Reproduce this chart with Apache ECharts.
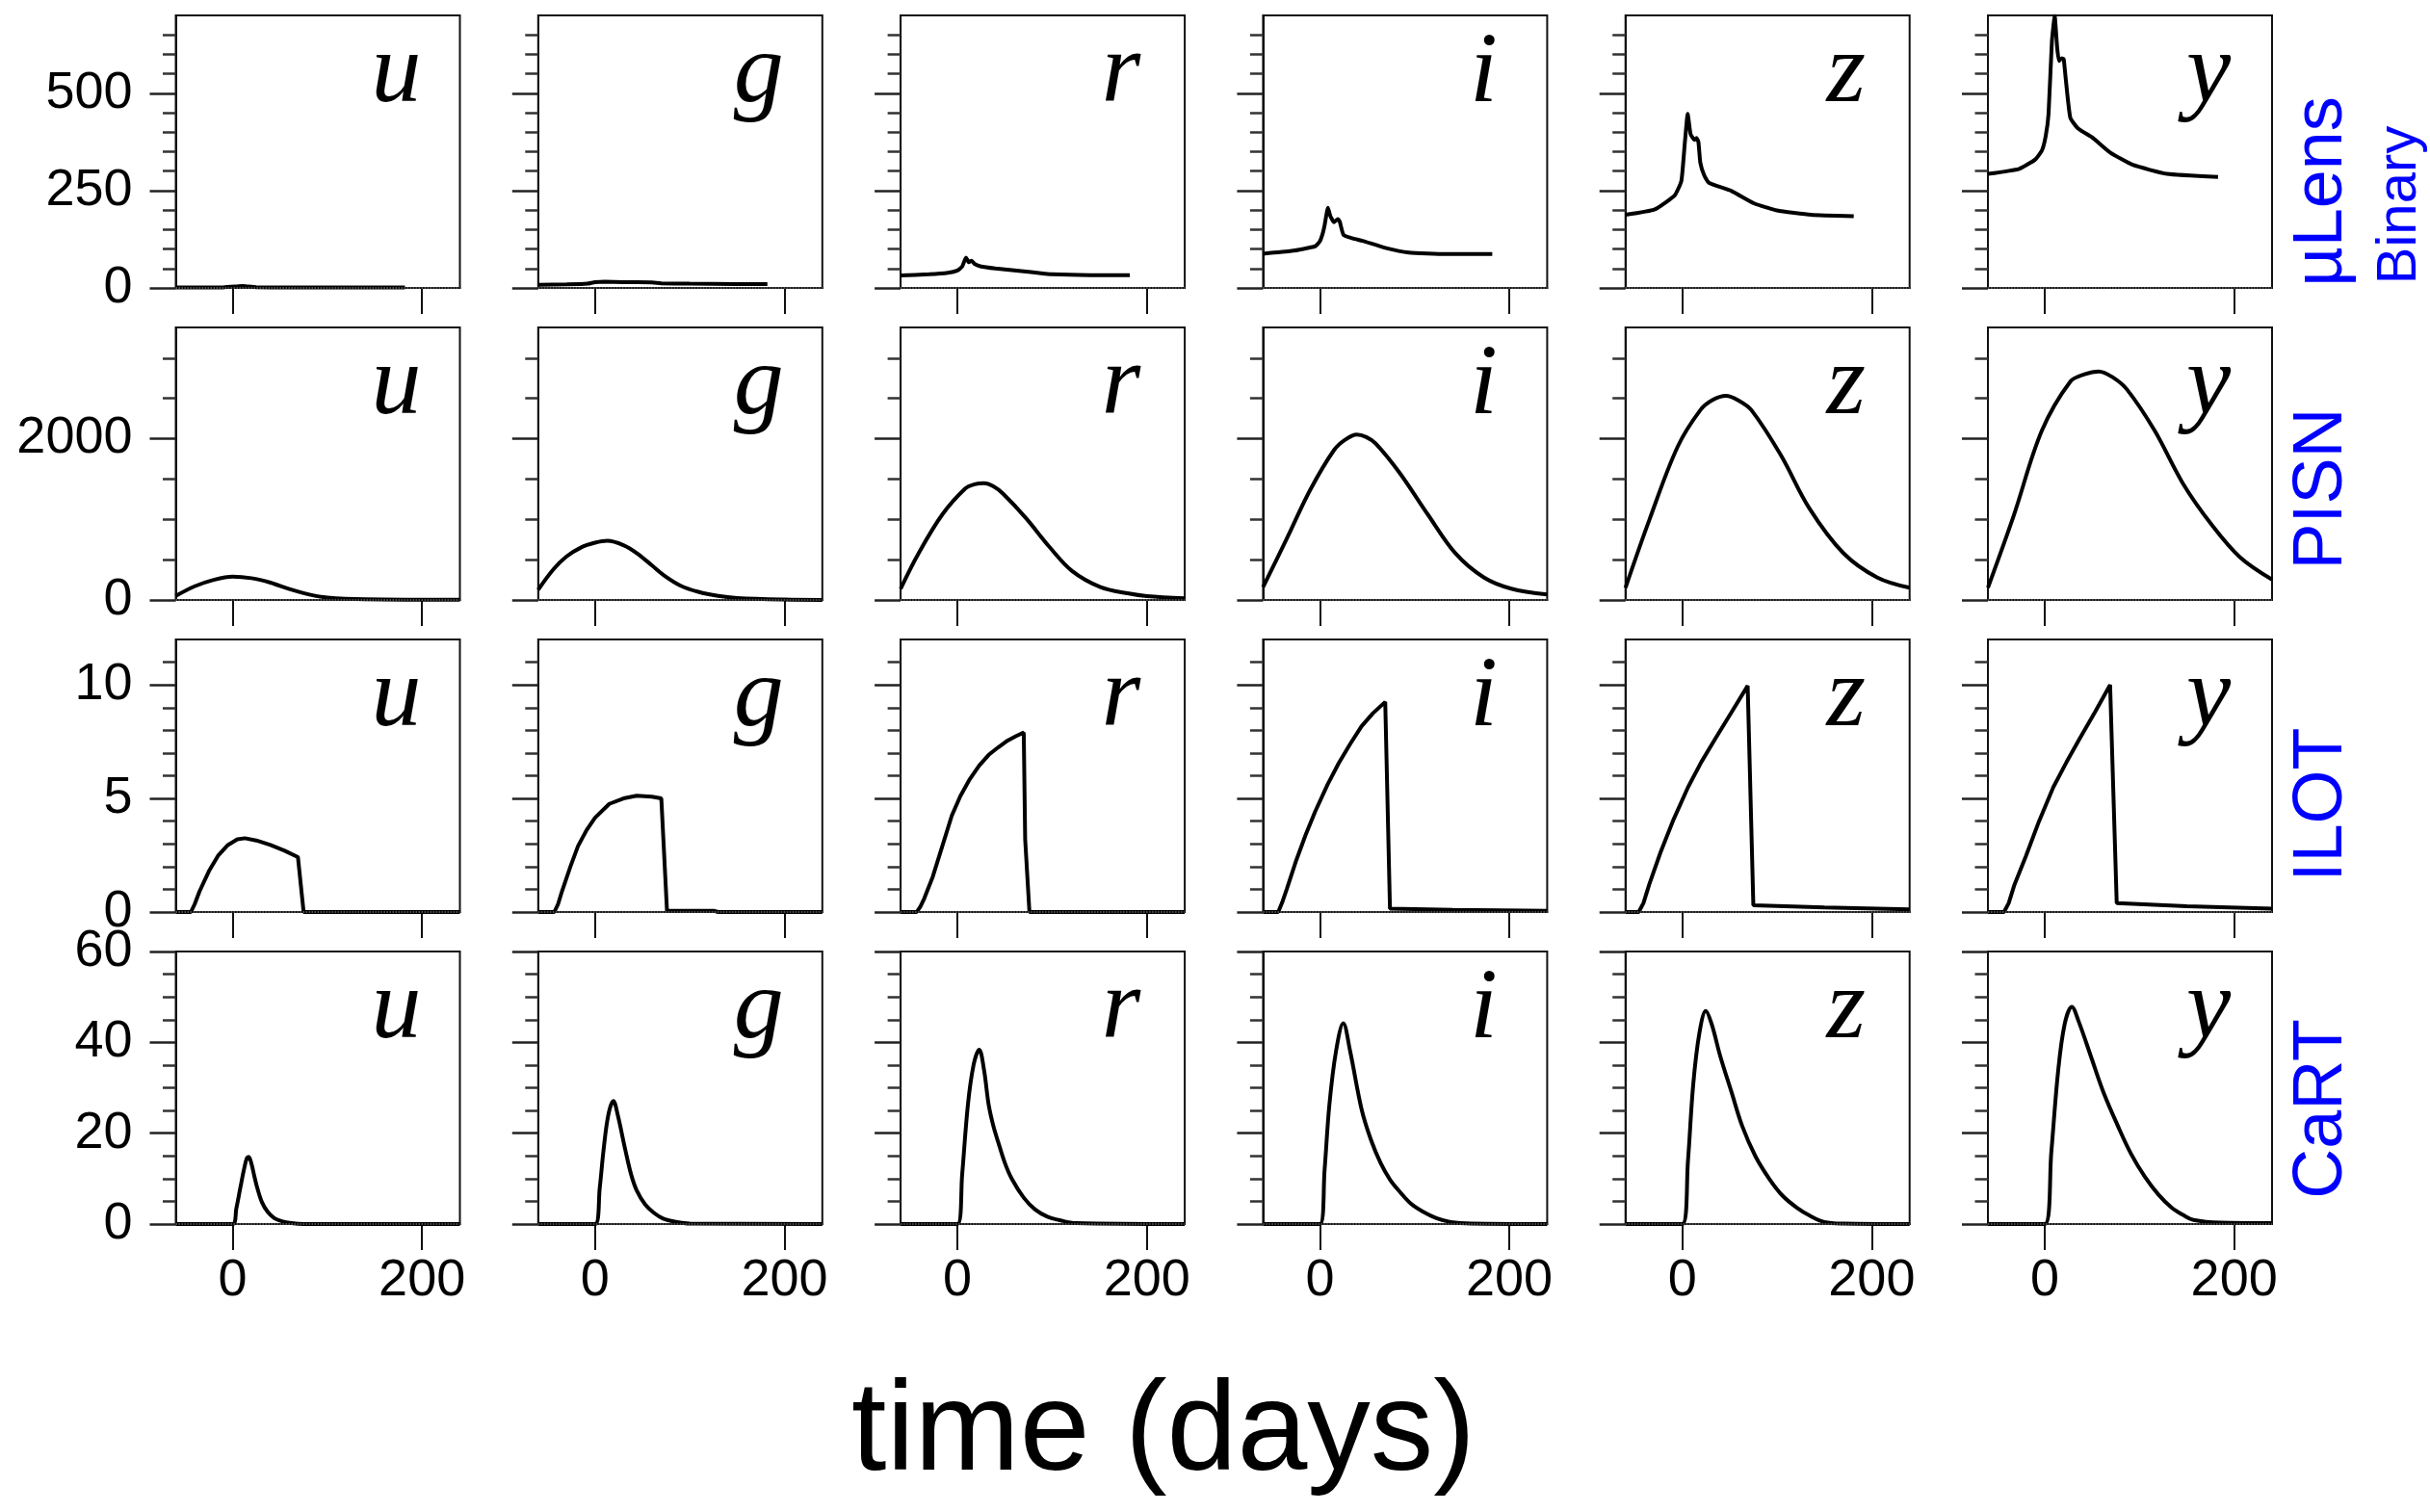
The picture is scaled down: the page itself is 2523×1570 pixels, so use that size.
<!DOCTYPE html>
<html>
<head>
<meta charset="utf-8">
<script src="https://cdn.jsdelivr.net/npm/echarts@6/dist/echarts.min.js"></script>
<style>
  html, body { margin: 0; padding: 0; background: #ffffff; }
  #chart { width: 2523px; height: 1570px; }
</style>
</head>
<body>
<div id="chart"></div>
<script>
// Photometric bands (columns) and transient classes (rows)
const bands = ['u', 'g', 'r', 'i', 'z', 'y'];
const classNames = ['µLens', 'PISN', 'ILOT', 'CaRT'];
const lensSubtitle = 'Binary';
const xTitle = 'time (days)';

// Axis ranges and tick values
const xRange = [-60, 240];
const xTickValues = [0, 200];
const yMaxByClass = [700, 3380, 12, 60];
const yMajorTicks = [[0, 250, 500], [0, 2000], [0, 5, 10], [0, 20, 40, 60]];
const yMinorTicks = [
  [50, 100, 150, 200, 300, 350, 400, 450, 550, 600, 650],
  [500, 1000, 1500, 2500, 3000],
  [1, 2, 3, 4, 6, 7, 8, 9, 11],
  [5, 10, 15, 25, 30, 35, 45, 50, 55]
];

// Light curves: [time (days), flux]
const lensU = [[-60, 1], [-10, 1.5], [5, 4], [10, 5], [15, 4], [25, 2], [60, 1.2], [182, 1]];
const lensG = [[-60, 8], [-30, 9], [-8, 11], [0, 15], [10, 16], [30, 15], [60, 14], [70, 12], [100, 11], [150, 10], [182, 10]];
const lensR = [[-60, 32], [-30, 35], [-10, 39], [0, 45], [5, 55], [9, 78], [12, 66], [15, 70], [18, 62], [25, 55], [40, 50], [60, 45], [80, 40], [100, 35], [140, 33], [182, 33]];
const lensI = [[-60, 88], [-30, 95], [-5, 107], [0, 120], [3, 140], [5, 161], [8.5, 206], [11, 185], [15, 169], [19, 177], [21, 170], [25, 136], [35, 127], [45, 121], [69, 103], [94, 91], [133, 87], [182, 87]];
const lensZ = [[-60, 188], [-29, 202], [-8, 238], [-1, 275], [2.7, 374], [5.7, 447], [8.7, 395], [13, 380], [15, 385], [17, 375], [19, 322], [23, 290], [28, 270], [52, 249], [76, 217], [100, 199], [136, 188], [181, 184]];
const lensY = [[-60, 293], [-27, 306], [-10, 330], [-3, 353], [1, 390], [4, 447], [7.6, 635], [10.5, 698], [13, 620], [15, 583], [18, 590], [20, 588], [22, 541], [27, 437], [35, 410], [51, 385], [69, 348], [93, 316], [129, 293], [183, 285]];

const pisnU = [[-60, 50], [-40, 170], [-20, 250], [0, 290], [20, 270], [40, 215], [60, 135], [80, 70], [100, 30], [140, 8], [240, 2]];
const pisnG = [[-60, 127], [-44, 380], [-30, 540], [-15, 650], [0, 710], [13, 734], [30, 680], [44, 582], [60, 430], [73, 304], [90, 180], [109, 101], [130, 50], [150, 25], [200, 5], [240, 0]];
const pisnR = [[-60, 140], [-41, 580], [-16, 1060], [8, 1380], [18, 1435], [28, 1448], [38, 1410], [48, 1320], [72, 1020], [97, 660], [121, 360], [151, 160], [181, 80], [200, 48], [240, 20]];
const pisnI = [[-60, 160], [-35, 760], [-10, 1370], [15, 1860], [27, 1990], [39, 2052], [49, 2020], [59, 1940], [84, 1580], [114, 1060], [143, 580], [173, 280], [202, 140], [240, 68]];
const pisnZ = [[-60, 152], [-35, 987], [-5, 1899], [19, 2354], [32, 2480], [46, 2532], [60, 2470], [73, 2354], [104, 1797], [134, 1139], [170, 582], [206, 278], [240, 152]];
const pisnY = [[-60, 152], [-33, 1038], [-3, 2101], [27, 2709], [42, 2800], [57, 2835], [72, 2760], [87, 2608], [116, 2101], [146, 1443], [176, 937], [206, 532], [240, 253]];

const ilotU = [[-60, 0], [-44, 0], [-40, 0.35], [-35, 0.9], [-25, 1.8], [-15, 2.5], [-5, 2.95], [5, 3.2], [13, 3.25], [25, 3.15], [40, 2.95], [55, 2.7], [69, 2.42], [75, 0], [240, 0]];
const ilotG = [[-60, 0], [-43, 0], [-39, 0.35], [-35, 0.9], [-26, 2.0], [-18, 2.9], [-9, 3.6], [0, 4.15], [15, 4.76], [30, 5.0], [44, 5.12], [60, 5.08], [70, 5.0], [76, 0.05], [126, 0.05], [130, 0], [240, 0]];
const ilotR = [[-60, 0], [-43, 0], [-39, 0.25], [-35, 0.6], [-26, 1.56], [-16, 2.9], [-6, 4.24], [3, 5.1], [13, 5.85], [23, 6.45], [33, 6.92], [43, 7.25], [53, 7.55], [62, 7.75], [70, 7.9], [71.5, 3.2], [76, 0], [240, 0]];
const ilotI = [[-60, 0], [-44, 0], [-40, 0.4], [-35, 1.0], [-25, 2.27], [-15, 3.4], [-5, 4.42], [8, 5.6], [20, 6.56], [32, 7.4], [44, 8.18], [56, 8.75], [69, 9.25], [74, 0.15], [140, 0.1], [240, 0.05]];
const ilotZ = [[-60, 0], [-46, 0], [-41, 0.4], [-35, 1.2], [-23, 2.63], [-9, 4.1], [6, 5.49], [20, 6.6], [35, 7.64], [52, 8.8], [69, 9.96], [75, 0.3], [150, 0.2], [240, 0.12]];
const ilotY = [[-60, 0], [-43, 0], [-38, 0.4], [-32, 1.2], [-20, 2.45], [-6, 4.0], [9, 5.49], [23, 6.6], [37, 7.64], [53, 8.8], [69, 10.0], [76, 0.39], [150, 0.25], [240, 0.15]];

const cartU = [[-60, 0], [0, 0], [4, 3.5], [8, 7.8], [12, 12], [15, 14.5], [17, 14.8], [20, 13.2], [23, 10.5], [26, 8], [31, 4.8], [37, 2.7], [44, 1.3], [52, 0.6], [62, 0.2], [75, 0], [240, 0]];
const cartG = [[-60, 0], [0, 0], [5, 8], [9, 16.3], [14, 24], [19.4, 27.1], [24, 24], [32, 16.3], [38, 11], [44, 7.4], [53, 4.3], [62, 2.5], [72, 1.2], [85, 0.5], [100, 0.1], [240, 0]];
const cartR = [[-60, 0], [0, 0], [5, 11], [11, 26.2], [17, 35], [23, 38.4], [28, 34], [33, 26.2], [38, 21.5], [43, 18.05], [50, 13.5], [57.5, 9.9], [70, 5.8], [82, 3.2], [95, 1.6], [107, 0.9], [125, 0.2], [240, 0]];
const cartI = [[-60, 0], [0, 0], [5, 12], [10, 26.2], [17, 38], [24.7, 44.2], [32, 38], [44, 25.3], [54, 18.5], [64, 13.5], [74, 9.8], [84, 7.2], [96, 4.5], [109, 2.7], [123, 1.3], [138, 0.45], [160, 0.1], [240, 0]];
const cartZ = [[-60, 0], [0, 0], [6, 14], [11.5, 30.7], [18, 42], [24.8, 46.9], [31, 44], [40, 37.0], [52, 29], [63, 21.7], [77, 15], [92, 9.9], [106, 6.2], [121, 3.6], [135, 1.8], [150, 0.45], [170, 0.1], [240, 0]];
const cartY = [[-60, 0], [0, 0], [7, 16], [14, 33.4], [21, 44], [28.6, 47.8], [36, 44.5], [48.6, 37.0], [62, 29], [77, 21.7], [91, 15.5], [105.7, 10.4], [120, 6.5], [134, 3.6], [146, 2], [157, 0.9], [186, 0.3], [240, 0.2]];

const curves = [
  [lensU, lensG, lensR, lensI, lensZ, lensY],
  [pisnU, pisnG, pisnR, pisnI, pisnZ, pisnY],
  [ilotU, ilotG, ilotR, ilotI, ilotZ, ilotY],
  [cartU, cartG, cartR, cartI, cartZ, cartY]
];
const smoothByClass = [0.15, 0.35, false, 0.35];

// Panel layout (pixels)
const LEFT0 = 182.5, COL_STEP = 376.3, PANEL_W = 295;
const TOP0 = 16, ROW_STEP = 324, PANEL_H = 283;

const SANS = '"Liberation Sans", Arial, Helvetica, sans-serif';
const SERIF = '"Liberation Serif", "Times New Roman", serif';
const INK = '#111111';
const plain = v => String(v);

const grids = [], xAxes = [], yAxes = [], series = [], graphics = [];

for (let r = 0; r < classNames.length; r++) {
  for (let c = 0; c < bands.length; c++) {
    const k = r * bands.length + c;
    const left = LEFT0 + COL_STEP * c;
    const top = TOP0 + ROW_STEP * r;
    grids.push({
      left: left, top: top, width: PANEL_W, height: PANEL_H,
      show: true, borderColor: INK, borderWidth: 2, backgroundColor: 'transparent'
    });
    xAxes.push({
      type: 'value', gridIndex: k, min: xRange[0], max: xRange[1], position: 'bottom',
      splitLine: { show: false },
      axisLine: { show: true, onZero: false, lineStyle: { color: INK, width: 2 } },
      axisTick: { show: true, customValues: xTickValues, length: 27, lineStyle: { color: INK, width: 2 } },
      axisLabel: {
        show: r === classNames.length - 1, customValues: xTickValues, margin: 32,
        fontFamily: SANS, fontSize: 54, color: '#000', formatter: plain
      }
    });
    yAxes.push({
      type: 'value', gridIndex: k, min: 0, max: yMaxByClass[r], position: 'left',
      splitLine: { show: false },
      axisLine: { show: true, onZero: false, lineStyle: { color: INK, width: 2 } },
      axisTick: { show: true, customValues: yMajorTicks[r], length: 27, lineStyle: { color: '#222', width: 2.5 } },
      axisLabel: {
        show: c === 0, customValues: yMajorTicks[r], margin: 45,
        fontFamily: SANS, fontSize: 54, color: '#000', formatter: plain
      }
    });
    yAxes.push({
      type: 'value', gridIndex: k, min: 0, max: yMaxByClass[r], position: 'left',
      splitLine: { show: false },
      axisLine: { show: false, onZero: false },
      axisTick: { show: true, customValues: yMinorTicks[r], length: 13.5, lineStyle: { color: '#333', width: 2.5 } },
      axisLabel: { show: false }
    });
    series.push({
      type: 'line', xAxisIndex: k, yAxisIndex: 2 * k,
      data: curves[r][c],
      showSymbol: false, symbol: 'none',
      smooth: smoothByClass[r],
      clip: true,
      lineStyle: { color: '#000', width: 4 },
      markLine: {
        silent: true, symbol: 'none', label: { show: false },
        lineStyle: { color: '#666', width: 1.5, type: 'dotted' },
        data: [{ yAxis: 0 }]
      },
      z: 3
    });
    // band letter in the upper right of each panel
    graphics.push({
      type: 'text', x: left + PANEL_W - 66, y: top + 62, z: 10,
      style: {
        text: bands[c], font: 'italic 104px ' + SERIF, fill: '#000',
        textAlign: 'center', textVerticalAlign: 'middle', align: 'center', verticalAlign: 'middle'
      }
    });
  }
}

// Row labels on the right, reading bottom to top
const rowLabelX = 2411;
const rowLabelOffset = [0, 26, 30, 22];
for (let r = 0; r < classNames.length; r++) {
  const cy = TOP0 + ROW_STEP * r + PANEL_H / 2 + rowLabelOffset[r];
  if (r === 0) {
    graphics.push({
      type: 'text', x: rowLabelX, y: 199, rotation: Math.PI / 2, z: 10,
      style: {
        text: classNames[0], font: '72px ' + SANS, fill: '#0000ff',
        textAlign: 'center', textVerticalAlign: 'middle', align: 'center', verticalAlign: 'middle'
      }
    });
    graphics.push({
      type: 'text', x: 2492, y: 213, rotation: Math.PI / 2, z: 10,
      style: {
        text: lensSubtitle, font: '58px ' + SANS, fill: '#0000ff',
        textAlign: 'center', textVerticalAlign: 'middle', align: 'center', verticalAlign: 'middle'
      }
    });
  } else {
    graphics.push({
      type: 'text', x: rowLabelX, y: cy, rotation: Math.PI / 2, z: 10,
      style: {
        text: classNames[r], font: '72px ' + SANS, fill: '#0000ff',
        textAlign: 'center', textVerticalAlign: 'middle', align: 'center', verticalAlign: 'middle'
      }
    });
  }
}

// Shared x-axis title
graphics.push({
  type: 'text', x: 1208, y: 1490, z: 10,
  style: {
    text: xTitle, font: '131px ' + SANS, fill: '#000',
    textAlign: 'center', textVerticalAlign: 'middle', align: 'center', verticalAlign: 'middle'
  }
});

const chart = echarts.init(document.getElementById('chart'), null, { renderer: 'canvas' });
chart.setOption({
  animation: false,
  backgroundColor: '#ffffff',
  grid: grids,
  xAxis: xAxes,
  yAxis: yAxes,
  series: series,
  graphic: { elements: graphics }
});
</script>
</body>
</html>
